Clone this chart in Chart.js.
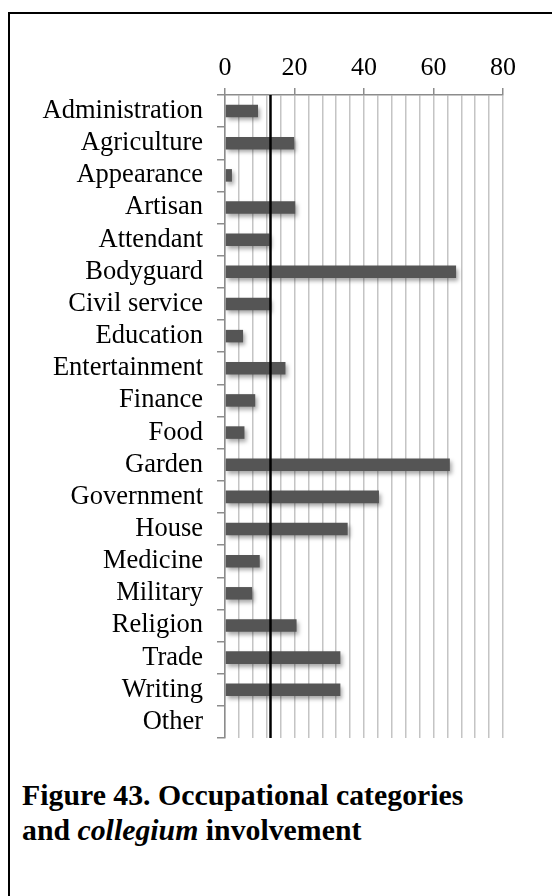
<!DOCTYPE html>
<html>
<head>
<meta charset="utf-8">
<script src="https://cdn.jsdelivr.net/npm/chart.js@4/dist/chart.umd.min.js"></script>
<style>
  html, body { margin: 0; padding: 0; background: #fff; width: 552px; height: 896px; overflow: hidden; }
  #frame { position: absolute; left: 8px; top: 12px; width: 560px; height: 900px; border-top: 2px solid #000; border-left: 2px solid #000; }
  #wrap { position: absolute; left: 0; top: 0; width: 552px; height: 760px; }
  #caption { position: absolute; left: 22px; top: 777px; font-family: "Liberation Serif", "Times New Roman", serif; font-weight: bold; font-size: 29.8px; line-height: 35px; color: #000; white-space: nowrap; }
</style>
</head>
<body>
<div id="frame"></div>
<div id="wrap"><canvas id="c" width="552" height="760"></canvas></div>
<div id="caption">Figure 43. Occupational categories<br>and <i>collegium</i> involvement</div>
<script>
const categories = ["Administration","Agriculture","Appearance","Artisan","Attendant","Bodyguard","Civil service","Education","Entertainment","Finance","Food","Garden","Government","House","Medicine","Military","Religion","Trade","Writing","Other"];
const values = [9.5, 19.9, 2.0, 20.2, 12.8, 66.5, 13.0, 5.2, 17.4, 8.7, 5.6, 64.7, 44.3, 35.3, 10.0, 7.8, 20.6, 33.2, 33.2, 0];
const referenceValue = 13;
const axisMin = 0, axisMax = 80, gridStep = 4, labelStep = 20;

const refLine = {
  id: 'refLine',
  afterDatasetsDraw(chart) {
    const {ctx, chartArea, scales} = chart;
    const x = Math.round(scales.x.getPixelForValue(referenceValue)) + 0.5;
    ctx.save();
    ctx.strokeStyle = '#000';
    ctx.lineWidth = 2.5;
    ctx.beginPath();
    ctx.moveTo(x, chartArea.top);
    ctx.lineTo(x, chartArea.bottom);
    ctx.stroke();
    ctx.restore();
  }
};
const barShadow = {
  id: 'barShadow',
  beforeDatasetsDraw(chart) {
    const ctx = chart.ctx;
    ctx.save();
    ctx.shadowColor = 'rgba(0,0,0,0.35)';
    ctx.shadowBlur = 4;
    ctx.shadowOffsetX = 2;
    ctx.shadowOffsetY = 3;
  },
  afterDatasetsDraw(chart) {
    chart.ctx.restore();
  }
};

new Chart(document.getElementById('c'), {
  type: 'bar',
  data: {
    labels: categories,
    datasets: [{
      data: values,
      backgroundColor: '#555555',
      borderWidth: 0,
      categoryPercentage: 0.39,
      barPercentage: 1.0
    }]
  },
  plugins: [barShadow, refLine],
  options: {
    indexAxis: 'y',
    responsive: false,
    animation: false,
    devicePixelRatio: 1,
    layout: { padding: { left: 0, top: 0, right: 49, bottom: 22 } },
    plugins: { legend: { display: false }, tooltip: { enabled: false } },
    scales: {
      x: {
        position: 'top',
        min: axisMin, max: axisMax,
        afterFit(s) { s.height = 95; s.paddingLeft = 0; s.paddingRight = 0; },
        ticks: {
          stepSize: gridStep,
          autoSkip: false,
          maxRotation: 0,
          padding: 4,
          color: '#000',
          font: { family: '"Liberation Serif", "Times New Roman", serif', size: 26 },
          callback: v => (v % labelStep === 0 ? String(v) : '')
        },
        grid: {
          color: '#c4c4c4',
          lineWidth: 1.5,
          tickLength: 7,
          tickColor: ctx => (ctx.tick && ctx.tick.value % labelStep === 0 ? '#8c8c8c' : 'rgba(0,0,0,0)')
        },
        border: { color: '#8c8c8c', width: 1.5 }
      },
      y: {
        afterFit(s) { s.width = 225; s.paddingTop = 0; s.paddingBottom = 0; },
        ticks: {
          autoSkip: false,
          padding: 14,
          color: '#000',
          font: { family: '"Liberation Serif", "Times New Roman", serif', size: 26.5 }
        },
        grid: {
          drawOnChartArea: false,
          tickLength: 8,
          lineWidth: 1.5,
          tickColor: ctx => (ctx.index >= categories.length ? 'rgba(0,0,0,0)' : '#8c8c8c')
        },
        border: { color: '#8c8c8c', width: 1.5 }
      }
    }
  }
});
</script>
</body>
</html>
